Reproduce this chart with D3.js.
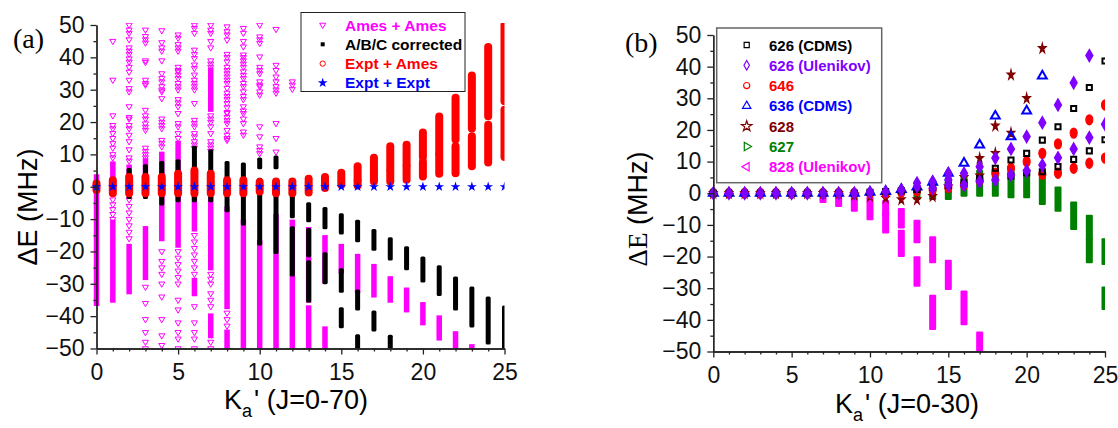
<!DOCTYPE html>
<html>
<head>
<meta charset="utf-8">
<script src="https://cdn.jsdelivr.net/npm/d3@7"></script>
<style>
  body { margin: 0; background: #fff; }
  svg { display: block; font-family: Arial, "Liberation Sans", sans-serif; }
</style>
</head>
<body>
<svg id="chart" width="1118" height="428"></svg>
<script>
// ---------- ticks ----------
const kaTicks = [0, 5, 10, 15, 20, 25];
const kaMinor = [1, 2, 3, 4, 6, 7, 8, 9, 11, 12, 13, 14, 16, 17, 18, 19, 21, 22, 23, 24];
const deTicks = [-50, -40, -30, -20, -10, 0, 10, 20, 30, 40, 50];
const deMinor = [-45, -35, -25, -15, -5, 5, 15, 25, 35, 45];

// ---------- panel (a), J = 0-70 ----------
const legendA = ["Ames + Ames", "A/B/C corrected", "Expt + Ames", "Expt + Expt"];
const colorsA = ["#ff00ff", "#000000", "#ff0000", "#0000ff"];

// Ames + Ames: dense runs of points [Ka, low, high]
const amesAmesBars = [
  [0, -36, 3], [1, -35, -11], [1, 0, 7], [2, -32.4, -18.5], [2, 0, 6], [3, -28, -13], [3, 2, 8],
  [4, -16, -3], [4, 3, 10], [5, -18, -3], [5, 2, 13.4], [6, -13, -3], [6, -33, -29],
  [7, -25, -4], [7, 24, 36], [7, -46, -40], [8, -37, -7], [8, -50, -45],
  [9, -50, -11], [10, -50, -17.4], [11, -50, -9.3], [12, -50, -11],
  [13, -35, -13.3], [13, -50, -37.5], [14, -29, -15.8], [14, -50, -44], [15, -26, -18.5],
  [16, -32, -21.6], [17, -33.4, -24.7], [18, -35, -28.5], [19, -38, -32], [20, -42, -36.5],
  [21, -46.7, -40.6], [22, -50, -45.5], [23, -50, -49.5]
];
// Ames + Ames: single points [Ka, [dE...]]
const amesAmesPts = [
  [1, [45, 33, 22, 19, 18, 16.5, 15, 13.4, 12, 10, 9, -4, -5.5, -7, -8.5, -10]],
  [2, [50, 48.5, 47.5, 45.5, 43, 42, 41, 39.6, 38.6, 37, 35.5, 33, 30.4, 29.4, 24.8, 21.5, 21, 19, 18, 16, 14, 11.5, 9, 8, -4, -6, -8, -10, -12, -14, -16]],
  [3, [48.5, 46.5, 45.5, 44.5, 39, 38.5, 33, 32, 31.5, 23.7, 22, 21, 19.5, 18.5, 17.5, 12, 11, 10, 9, -31, -36, -41, -45, -48, -50]],
  [4, [48.3, 44.6, 43, 42, 39, 35, 33.5, 32.5, 31, 30, 29.4, 27.3, 21, 20, 19, 18, 14.4, 13.5, 12.4, -20, -23, -25, -27, -30, -34, -41, -46, -49]],
  [5, [47, 46, 44, 43, 42, 37, 36, 35.6, 34.6, 33.5, 32, 31, 30, 27, 26, 24.8, 22.7, 19.6, 18.6, 16.5, 15, -20, -22, -24, -26, -28, -30, -35, -38, -42, -45, -47, -50]],
  [6, [50, 49, 47.5, 42.3, 41, 39.7, 37.7, 36.6, 34.6, 33, 32, 31, 30, 25.8, 20.6, 19.6, 18.6, 16.5, 15.5, 14, 13, 12, -15, -17, -19, -21, -23, -25, -27, -37, -42, -45, -47, -50]],
  [7, [50, 48.5, 47.5, 45, 43, 39, 38, 37, 22, 21, 20, 18.6, 16.5, 14, 13, 12, 11, -27, -28.5, -30, -33, -35, -37, -48, -50]],
  [8, [49.5, 48, 47, 45.4, 41, 40, 38.7, 37, 36, 35, 34, 33, 32, 30.5, 29, 28, 27, 25.8, 24.5, 23, 22.7, 21.5, 20.5, 19.6, 17.5, 16, 15, 14.4, -39, -41, -43]],
  [9, [49, 47.5, 45, 43.3, 40.8, 40, 39, 38, 37, 35.6, 34.5, 33.5, 32, 31, 29.4, 28, 27, 24.8, 23.5, 22.7, 21, 19.6, 17, 16]],
  [10, [50, 46.4, 45.5, 44.4, 40.2, 37, 36, 35, 32.5, 31.5, 31, 29.4, 28.4, 18.6, 15.5, 12.4, 11.3, 10.3]],
  [11, [48.7, 37.6, 36, 34, 32.5, 31, 30, 29, 19.6, 15, 10.8]],
  [12, [32.5, 31.5, 30.2]]
];
// A/B/C corrected [Ka, low, high]
const abcBars = [
  [2, -3, 5], [3, -3, 6.2], [4, -5, 7.2], [5, -4, 7.7], [6, -4, 11.9], [7, -4, 10.8],
  [8, -7.1, 7.2], [9, -11.2, 6.7], [10, 6.2, 8.3], [10, -17.4, 2], [11, 6.2, 8.9], [11, -20, -2.5],
  [12, -9, -3], [12, -27, -13], [13, -10.2, -5.6], [13, -21, -13.5], [13, -35, -23.5],
  [14, -12.4, -7], [14, -29.4, -21], [15, -14, -9], [15, -32, -26], [15, -43, -38],
  [16, -16.4, -11], [16, -37.5, -32.5], [16, -50, -46.4], [17, -19, -13.8], [17, -44, -39],
  [18, -22, -16.4], [18, -50, -46.5], [19, -25, -19.2], [20, -28.8, -22.3], [21, -33, -25],
  [22, -37.5, -28.5], [23, -42.7, -31.6], [24, -48, -34.7], [25, -50, -37.5]
];
// Expt + Ames [Ka, low, high]
const exptAmesBars = [
  [0, -1, 1], [1, -2, 2], [2, -2, 3], [3, -2, 3], [4, -2, 3], [5, -2, 4], [6, -2, 5], [7, -2, 4],
  [8, -2, 2], [9, -2, 2], [10, -1.5, 1.5], [11, -2, 1.6], [12, -2, 1.6], [13, -1.8, 2.5],
  [14, -0.4, 3], [15, 0.6, 4.3], [16, 0.4, 1.8], [16, 2.2, 6.3], [17, 1.6, 4.4], [17, 5, 9],
  [18, 1.6, 4.7], [18, 5.3, 12.5], [19, 2.2, 6.3], [19, 6.8, 13], [20, 3.2, 7.8], [20, 9.2, 16.8],
  [21, 4, 9.9], [21, 10.3, 21.7], [22, 4.2, 12.5], [22, 14.6, 27.5], [23, 6.3, 15.6], [23, 18, 34.4],
  [24, 7.5, 19.2], [24, 21.8, 43.2], [25, 9.2, 23.8], [25, 26.4, 50]
];
// Expt + Expt [Ka, dE]
const exptExpt = [
  [0, 0], [1, 0], [2, 0], [3, 0], [4, 0], [5, 0], [6, 0], [7, 0], [8, 0], [9, 0], [10, 0], [11, 0], [12, 0],
  [13, 0], [14, 0], [15, 0], [16, 0], [17, 0], [18, 0], [19, 0], [20, 0], [21, 0], [22, 0], [23, 0], [24, 0], [25, 0]
];

// ---------- panel (b), J = 0-30 ----------
const legendB = ["626 (CDMS)", "626 (Ulenikov)", "646", "636 (CDMS)", "628", "627", "828 (Ulenikov)"];
const colorsB = ["#000000", "#8000ff", "#ff0000", "#0000ff", "#800000", "#008000", "#ff00ff"];

const cdms626 = [
  [0, 0], [1, 0], [2, 0], [3, 0], [4, 0], [5, 0], [6, 0], [7, 0], [8, 0], [9, 0], [10, 0.3], [11, 0.5],
  [12, 0.8], [13, 1.2], [14, 1.8], [15, 2.5], [16, 3.3], [17, 4.6], [18, 7.9], [19, 10.5], [19, 5.5],
  [20, 12.6], [20, 6.5], [21, 16.8], [21, 6.8], [22, 21.0], [22, 8.4], [23, 26.8], [23, 10.7],
  [24, 33.4], [24, 13.4], [25, 41.8], [25, 16.9]
];
const ulenikov626 = [
  [0, 0], [1, 0], [2, 0], [3, 0], [4, 0], [5, 0], [6, 0], [7, 0], [8, 0], [9, 0], [10, 0.3], [11, 0.5],
  [12, 1.0], [13, 2.1], [13, 3.2], [14, 1.6], [14, 3.7], [15, 2.6], [15, 4.2], [15, 6.3], [16, 2.6], [16, 6.3],
  [17, 3.7], [17, 8.4], [18, 4.2], [18, 11.1], [19, 5.8], [19, 14.0], [20, 7.1], [20, 17.9], [21, 8.9],
  [21, 22.3], [22, 11.2], [22, 27.9], [23, 14], [23, 34.9], [24, 17.6], [24, 43.5], [25, 21.8]
];
const iso646 = [
  [0, 0], [1, 0], [2, 0], [3, 0], [4, 0], [5, 0], [6, 0], [7, 0], [8, 0], [9, 0], [10, 0], [11, 0], [12, 0.3],
  [13, 0.8], [14, 1.2], [15, 1.8], [16, 2.6], [17, 4], [18, 6.3], [19, 7.9], [20, 10], [21, 12.6], [21, 6],
  [22, 15.6], [22, 6.3], [23, 19], [23, 7.9], [24, 23.2], [24, 9.5], [25, 27.9], [25, 11.1]
];
const cdms636 = [
  [0, 0], [1, 0], [2, 0], [3, 0], [4, 0], [5, 0], [6, 0], [7, 0], [8, 0], [9, 0], [10, 0.3], [11, 0.6],
  [12, 1.2], [13, 2], [14, 3.5], [15, 6.3], [16, 9.5], [17, 15.3], [18, 24.4], [19, 17.9], [20, 26], [21, 37.1]
];
const iso628 = [
  [0, 0], [1, 0], [2, 0], [3, 0], [4, 0], [5, 0], [6, 0], [7, 0], [8, 0], [9, -0.5], [10, -1], [11, -1.5],
  [12, -2], [13, -2], [14, -1], [15, 2], [16, 5], [17, 11], [17, 5.5], [18, 21.3], [18, 12.6],
  [19, 37.4], [19, 19], [20, 30], [21, 45.8]
];
const iso627 = [
  [0, 0], [1, 0], [2, 0], [3, 0], [4, 0], [5, 0], [6, 0], [7, 0], [8, 0], [9, 0], [10, 0], [11, 0], [12, 0.3]
];
const iso627Bars = [
  [13, -1, 1.5], [14, -1, 3], [15, -1, 4], [16, 0, 5], [17, 0, 6.3], [18, 0, 6.8], [19, -0.5, 6.3],
  [20, -0.5, 6.3], [21, -2.6, 4.2], [22, -4.7, 1], [23, -10.5, -3.7], [24, -13.7, -7.9], [24, -21, -15.3],
  [25, -21.6, -15.3], [25, -35.8, -30.6]
];
const ulenikov828 = [[0, 0], [1, 0], [2, 0], [3, 0], [4, 0], [5, 0], [6, 0]];
const ulenikov828Bars = [
  [7, -2, -0.3], [8, -3.2, -0.3], [9, -4.7, -1], [10, -7.4, -2.1], [11, -6.3, -3.2], [11, -11.6, -6.9],
  [12, -10, -5.8], [12, -19, -12.6], [13, -14.7, -9.5], [13, -28.4, -21], [14, -21, -14.7],
  [14, -42.1, -33.2], [15, -29.5, -22.1], [16, -40.6, -31.8], [17, -50.6, -44.8]
];

// ---------- drawing ----------
const svg = d3.select("#chart");

const xA = d3.scaleLinear().domain([0, 25]).range([96.5, 504.5]);
const yA = d3.scaleLinear().domain([-50, 50]).range([348.5, 25]);
const xB = d3.scaleLinear().domain([0, 25]).range([713.3, 1105]);
const yB = d3.scaleLinear().domain([-50, 50]).range([351.5, 35]);

const sym = (type, size) => d3.symbol().type(type).size(size)();

// clip regions for the two plot areas (open on the left so Ka'=0 is not cut)
const defs = svg.append("defs");
defs.append("clipPath").attr("id", "clipA").append("rect")
  .attr("x", xA(0) - 8).attr("y", yA(50) - 2).attr("width", xA(25) - xA(0) + 8).attr("height", yA(-50) - yA(50) + 2);
defs.append("clipPath").attr("id", "clipB").append("rect")
  .attr("x", xB(0) - 8).attr("y", yB(50) - 2).attr("width", xB(25) - xB(0) + 8).attr("height", yB(-50) - yB(50) + 2);

// a column of overlapping markers drawn as one bar
function drawBars(g, data, x, y, w, color, rx) {
  g.selectAll(null).data(data).join("rect")
    .attr("x", d => x(d[0]) - w / 2)
    .attr("y", d => y(d[2]) - w / 2)
    .attr("width", w)
    .attr("height", d => y(d[1]) - y(d[2]) + w)
    .attr("rx", rx)
    .attr("fill", color);
}

function drawAxes(x, y) {
  const gx = svg.append("g").attr("transform", `translate(0,${y(-50)})`);
  gx.call(d3.axisBottom(x).tickValues(kaTicks).tickSize(6).tickSizeOuter(0).tickPadding(4));
  gx.append("g").call(d3.axisBottom(x).tickValues(kaMinor).tickSize(3).tickSizeOuter(0).tickFormat(""));
  const gy = svg.append("g").attr("transform", `translate(${x(0)},0)`);
  gy.call(d3.axisLeft(y).tickValues(deTicks).tickSize(6).tickSizeOuter(0).tickPadding(6));
  gy.append("g").call(d3.axisLeft(y).tickValues(deMinor).tickSize(3).tickSizeOuter(0).tickFormat(""));
  [gx, gy].forEach(g => {
    g.selectAll("path, line").attr("stroke", "#222").attr("stroke-width", 1.3);
    g.selectAll("text").attr("font-size", 23).attr("fill", "#111").attr("font-family", "Arial, 'Liberation Sans', sans-serif");
  });
  gx.selectAll("text").attr("dy", "0.95em");
}

// x title: K with subscript a
function xTitle(cx, y, label) {
  const t = svg.append("text").attr("x", cx).attr("y", y).attr("text-anchor", "middle").attr("font-size", 27);
  t.append("tspan").text("K");
  t.append("tspan").attr("font-size", 18).attr("dy", 8).text("a");
  t.append("tspan").attr("dy", -8).attr("dx", 2).text("' " + label);
}

// ---- panel (a) ----
const plotA = svg.append("g").attr("clip-path", "url(#clipA)");

const gMag = plotA.append("g");
drawBars(gMag, amesAmesBars, xA, yA, 5.5, colorsA[0], 0);
gMag.selectAll(null)
  .data(amesAmesPts.flatMap(([k, vals]) => vals.map(v => [k, v])))
  .join("path")
    .attr("d", sym(d3.symbolTriangle, 16))
    .attr("transform", d => `translate(${xA(d[0])},${yA(d[1])}) rotate(180)`)
    .attr("fill", "none")
    .attr("stroke", colorsA[0])
    .attr("stroke-width", 1);

drawBars(plotA.append("g"), abcBars, xA, yA, 5, colorsA[1], 1.5);
drawBars(plotA.append("g"), exptAmesBars, xA, yA, 8, colorsA[2], 4);

plotA.append("g").selectAll("path").data(exptExpt).join("path")
  .attr("d", sym(d3.symbolStar, 30))
  .attr("transform", d => `translate(${xA(d[0])},${yA(d[1])})`)
  .attr("fill", colorsA[3]);

drawAxes(xA, yA);

// legend (a)
const legA = svg.append("g");
legA.append("rect").attr("x", 301).attr("y", 12.5).attr("width", 164).attr("height", 79)
  .attr("fill", "#fff").attr("stroke", "#222").attr("stroke-width", 1);
const legAMarks = [
  { d: sym(d3.symbolTriangle, 16), rot: 180, fill: "none" },
  { d: sym(d3.symbolSquare, 16), rot: 0, fill: colorsA[1] },
  { d: sym(d3.symbolCircle, 22), rot: 0, fill: "none" },
  { d: sym(d3.symbolStar, 30), rot: 0, fill: colorsA[3] }
];
legendA.forEach((name, i) => {
  const cy = 25 + i * 19.3;
  const m = legAMarks[i];
  legA.append("path").attr("d", m.d)
    .attr("transform", `translate(322.7,${cy}) rotate(${m.rot})`)
    .attr("fill", m.fill).attr("stroke", colorsA[i]).attr("stroke-width", m.fill === "none" ? 1 : 0);
  legA.append("text").attr("x", 345).attr("y", cy + 5.5)
    .attr("font-size", 15.5).attr("font-weight", "bold").attr("fill", colorsA[i]).text(name);
});

// labels (a)
svg.append("text").attr("x", 13).attr("y", 48).attr("font-family", "'Liberation Serif', 'Times New Roman', serif")
  .attr("font-size", 28).text("(a)");
svg.append("text").attr("transform", "translate(37,207) rotate(-90)").attr("text-anchor", "middle")
  .attr("font-size", 27).text("ΔE (MHz)");
xTitle(296, 409, "(J=0-70)");

// ---- panel (b) ----
const plotB = svg.append("g").attr("clip-path", "url(#clipB)");

function drawPts(data, d, color, fill, sw, stretch, rot) {
  plotB.append("g").selectAll("path").data(data).join("path")
    .attr("d", d)
    .attr("transform", p => `translate(${xB(p[0])},${yB(p[1])}) rotate(${rot}) scale(1,${stretch})`)
    .attr("fill", fill)
    .attr("stroke", color)
    .attr("stroke-width", sw);
}

drawBars(plotB.append("g"), iso627Bars, xB, yB, 7, colorsB[5], 1);
drawPts(iso627, sym(d3.symbolTriangle, 30), colorsB[5], colorsB[5], 1, 1, 90);
drawBars(plotB.append("g"), ulenikov828Bars, xB, yB, 7, colorsB[6], 1);
drawPts(ulenikov828, sym(d3.symbolTriangle, 30), colorsB[6], colorsB[6], 1, 1, -90);
drawPts(iso628, sym(d3.symbolStar, 18), colorsB[4], colorsB[4], 1, 1.35, 0);
drawPts(iso646, sym(d3.symbolCircle, 40), colorsB[2], colorsB[2], 1, 1.4, 0);
drawPts(cdms636, sym(d3.symbolTriangle, 34), colorsB[3], "none", 2, 1, 0);
drawPts(cdms626, sym(d3.symbolSquare, 26), colorsB[0], "none", 2, 1, 0);
drawPts(ulenikov626, sym(d3.symbolDiamond, 40), colorsB[1], colorsB[1], 1.5, 1, 0);

drawAxes(xB, yB);

// legend (b)
const legB = svg.append("g");
legB.append("rect").attr("x", 716.7).attr("y", 28).attr("width", 165).attr("height", 154.7)
  .attr("fill", "#fff").attr("stroke", "#666").attr("stroke-width", 1.5);
const legBMarks = [
  { d: sym(d3.symbolSquare, 26), rot: 0 },
  { d: sym(d3.symbolDiamond, 26), rot: 0 },
  { d: sym(d3.symbolCircle, 30), rot: 0 },
  { d: sym(d3.symbolTriangle, 30), rot: 0 },
  { d: sym(d3.symbolStar, 34), rot: 0 },
  { d: sym(d3.symbolTriangle, 30), rot: 90 },
  { d: sym(d3.symbolTriangle, 30), rot: -90 }
];
legendB.forEach((name, i) => {
  const cy = 45 + i * 20.3;
  const m = legBMarks[i];
  legB.append("path").attr("d", m.d)
    .attr("transform", `translate(746.7,${cy}) rotate(${m.rot})`)
    .attr("fill", "none").attr("stroke", colorsB[i]).attr("stroke-width", 1.2);
  legB.append("text").attr("x", 769).attr("y", cy + 5.5)
    .attr("font-size", 15).attr("font-weight", "bold").attr("fill", colorsB[i]).text(name);
});

// labels (b)
svg.append("text").attr("x", 625).attr("y", 52).attr("font-family", "'Liberation Serif', 'Times New Roman', serif")
  .attr("font-size", 28).text("(b)");
const yTitleB = svg.append("text").attr("transform", "translate(647,209) rotate(-90)").attr("text-anchor", "middle")
  .attr("font-size", 27);
yTitleB.append("tspan").attr("font-family", "'Liberation Serif', 'Times New Roman', serif").text("ΔE");
yTitleB.append("tspan").text(" (MHz)");
xTitle(907, 413, "(J=0-30)");
</script>
</body>
</html>
